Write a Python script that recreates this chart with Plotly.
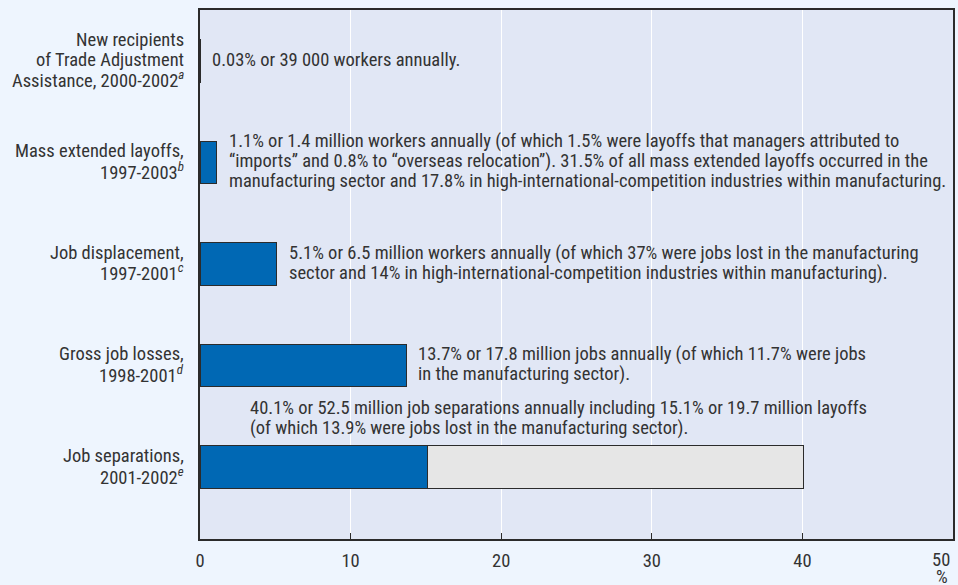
import plotly.graph_objects as go

# Share of employment affected by each measure of job loss (%)
categories = ["TAA", "MEL", "JD", "GJL", "JS"]
category_lines = [
    ["New recipients", "of Trade Adjustment", "Assistance, 2000-2002<sup><i>a</i></sup>"],
    ["Mass extended layoffs,", "1997-2003<sup><i>b</i></sup>"],
    ["Job displacement,", "1997-2001<sup><i>c</i></sup>"],
    ["Gross job losses,", "1998-2001<sup><i>d</i></sup>"],
    ["Job separations,", "2001-2002<sup><i>e</i></sup>"],
]
main_values = [0.03, 1.1, 5.1, 13.7, 15.1]     # layoffs / losses
separations_total = [None, None, None, None, 40.1]
remaining_values = [None if t is None else round(t - m, 1)
                    for t, m in zip(separations_total, main_values)]

value_notes = [
    ["0.03% or 39 000 workers annually."],
    ["1.1% or 1.4 million workers annually (of which 1.5% were layoffs that managers attributed to",
     "\u201cimports\u201d and 0.8% to \u201coverseas relocation\u201d). 31.5% of all mass extended layoffs occurred in the",
     "manufacturing sector and 17.8% in high-international-competition industries within manufacturing."],
    ["5.1% or 6.5 million workers annually (of which 37% were jobs lost in the manufacturing",
     "sector and 14% in high-international-competition industries within manufacturing)."],
    ["13.7% or 17.8 million jobs annually (of which 11.7% were jobs",
     "in the manufacturing sector)."],
    ["40.1% or 52.5 million job separations annually including 15.1% or 19.7 million layoffs",
     "(of which 13.9% were jobs lost in the manufacturing sector)."],
]
x_ticks = [0, 10, 20, 30, 40, 50]
x_tick_labels = ["0", "10", "20", "30", "40", "50"]

FONT = "Liberation Sans Narrow, Roboto Condensed, Arial Narrow, sans-serif"
FSIZE = 18.5
TEXT = "#333333"
BLUE = "#0068b4"
GREY = "#e6e6e6"
EDGE = "#2b2b2b"
LINE_H = 20

fig = go.Figure()
fig.add_trace(go.Bar(
    y=categories, x=main_values, orientation="h",
    marker=dict(color=BLUE, line=dict(color=EDGE, width=1)),
    width=0.42, hoverinfo="skip", showlegend=False,
))
fig.add_trace(go.Bar(
    y=categories, x=remaining_values, orientation="h",
    marker=dict(color=GREY, line=dict(color=EDGE, width=1)),
    width=0.42, hoverinfo="skip", showlegend=False,
))

annotations = []
# category labels, one annotation per line
for cat, lines in zip(categories, category_lines):
    n = len(lines)
    for i, ln in enumerate(lines):
        annotations.append(dict(
            xref="paper", yref="y", x=0, y=cat, text=ln,
            xanchor="right", yanchor="middle", xshift=-14,
            yshift=((n - 1) / 2 - i) * LINE_H + 1,
            showarrow=False, font=dict(family=FONT, size=FSIZE, color=TEXT),
        ))

# value notes beside (or above) each bar
for k, (cat, lines) in enumerate(zip(categories, value_notes)):
    n = len(lines)
    if separations_total[k] is None:
        x0, xs, base = main_values[k], 10, 0
    else:
        x0, xs, base = 0, 48, 48
    for i, ln in enumerate(lines):
        annotations.append(dict(
            xref="x", yref="y", x=x0, y=cat, text=ln,
            xanchor="left", yanchor="middle", xshift=xs,
            yshift=base + ((n - 1) / 2 - i) * LINE_H + 1,
            showarrow=False, font=dict(family=FONT, size=FSIZE, color=TEXT),
        ))

# last tick label sits flush with the right edge, unit underneath it
annotations.append(dict(
    xref="paper", yref="paper", x=1, y=0, text=x_tick_labels[-1],
    xanchor="right", yanchor="middle", xshift=-1, yshift=-21,
    showarrow=False, font=dict(family=FONT, size=FSIZE, color=TEXT),
))
annotations.append(dict(
    xref="paper", yref="paper", x=1, y=0, text="%",
    xanchor="right", yanchor="middle", xshift=-3, yshift=-38,
    showarrow=False, font=dict(family=FONT, size=FSIZE, color=TEXT),
))

fig.update_layout(
    width=958, height=585,
    margin=dict(l=200, r=3, t=10, b=46),
    paper_bgcolor="#eef5fe", plot_bgcolor="#e1e7f5",
    barmode="stack", bargap=0.58,
    font=dict(family=FONT, size=FSIZE, color=TEXT),
    annotations=annotations,
)
fig.update_xaxes(
    range=[0, 50], tickvals=x_ticks[:-1], ticktext=x_tick_labels[:-1],
    ticks="inside", ticklen=6,
    tickcolor=EDGE, tickwidth=1, ticklabelstandoff=4,
    showgrid=True, gridcolor="white", gridwidth=1, zeroline=False,
    showline=True, linecolor=EDGE, linewidth=2, mirror=True,
    tickfont=dict(family=FONT, size=FSIZE, color=TEXT),
)
fig.update_yaxes(
    type="category", categoryorder="array", categoryarray=categories,
    autorange="reversed", showticklabels=False, showgrid=False,
    showline=True, linecolor=EDGE, linewidth=2, mirror=True, ticks="",
)

fig.write_html("out.html")
